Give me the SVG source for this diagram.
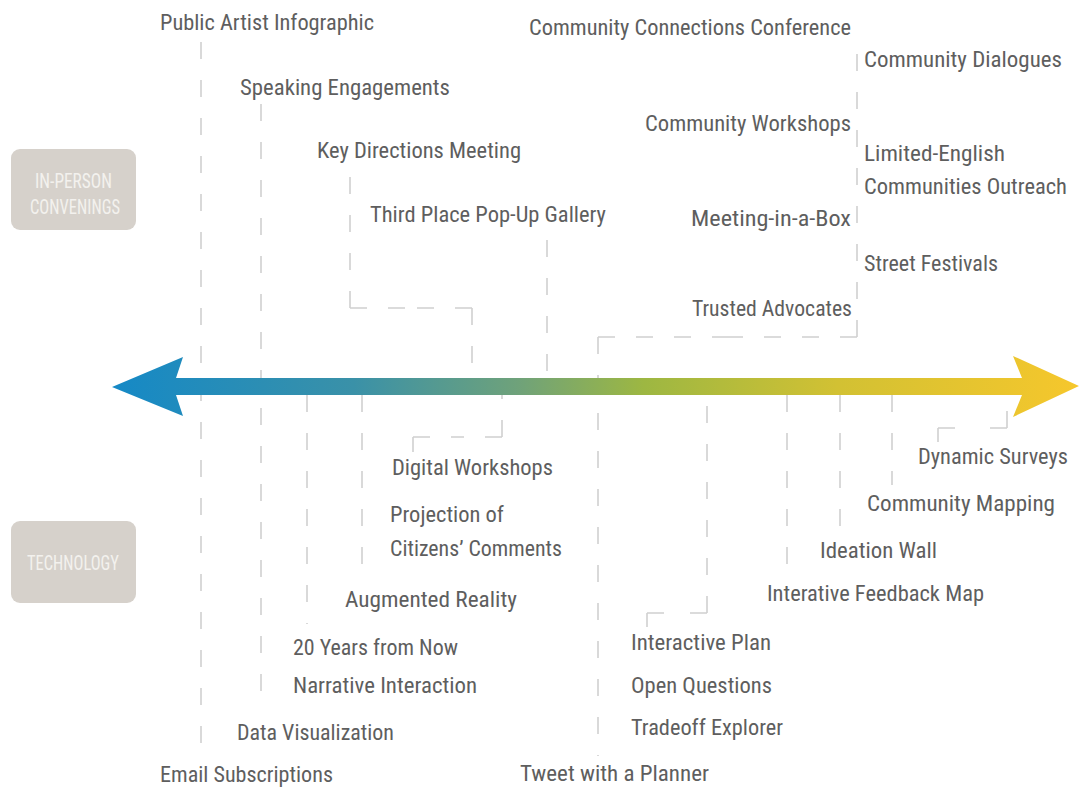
<svg xmlns="http://www.w3.org/2000/svg" width="1079" height="788" viewBox="0 0 1079 788">
<defs>
<linearGradient id="grad" gradientUnits="userSpaceOnUse" x1="112" y1="0" x2="1079" y2="0">
<stop offset="0" stop-color="#1589c6"/>
<stop offset="0.25" stop-color="#3a91a8"/>
<stop offset="0.42" stop-color="#6fa27a"/>
<stop offset="0.55" stop-color="#9db742"/>
<stop offset="0.75" stop-color="#d2c133"/>
<stop offset="1" stop-color="#f6c72c"/>
</linearGradient>
<style>
.lbl{font-family:"Liberation Sans Narrow","Roboto Condensed","Liberation Sans",sans-serif;font-size:22px;fill:#5e5e5e}
.cat{font-family:"Liberation Sans Narrow","Roboto Condensed","Liberation Sans",sans-serif;font-size:20px;fill:#f3f1ee}
.box{fill:#d6d1cb}
.con{fill:none;stroke:#d0d0d0;stroke-width:1.6;stroke-dasharray:17 21}
</style>
</defs>
<rect width="1079" height="788" fill="#ffffff"/>

<g id="cat-inperson">
<rect class="box" x="11" y="149" width="125" height="81" rx="9"/>
<text class="cat" x="35" y="188" textLength="77" lengthAdjust="spacingAndGlyphs">IN-PERSON</text>
<text class="cat" x="30" y="214" textLength="90" lengthAdjust="spacingAndGlyphs">CONVENINGS</text>
</g>
<g id="cat-technology">
<rect class="box" x="11" y="521" width="125" height="82" rx="9"/>
<text class="cat" x="27" y="570" textLength="92" lengthAdjust="spacingAndGlyphs">TECHNOLOGY</text>
</g>

<g id="connectors">
<path class="con" d="M201 42 V753"/>
<path class="con" d="M261 104 V712"/>
<path class="con" d="M350 308 V172 M350 308 H411 M472 308 H411 M472 308 V377"/>
<path class="con" d="M547 240 V377"/>
<path class="con" d="M857 337 V42 M857 337 H727 M598 337 H727 M598 337 V756"/>
<path class="con" d="M502 437 V395 M502 437 H457 M413 437 H457 M413 437 V452"/>
<path class="con" d="M362 395 V575"/>
<path class="con" d="M307 395 V624"/>
<path class="con" d="M707 613 V395 M707 613 H677 M647 613 H677 M647 613 V627"/>
<path class="con" d="M787 395 V582"/>
<path class="con" d="M840 395 V532"/>
<path class="con" d="M892 395 V485"/>
<path class="con" d="M1007 428 V395 M1007 428 H972 M938 428 H972 M938 428 V442"/>
</g>

<g id="axis-arrow">
<path fill="url(#grad)" d="M112 387 L183 357 L176 378 L1022 378 L1013 356 L1079 386 L1013 417 L1022 395 L176 395 L183 416 Z"/>
</g>

<g id="n-public-artist"><text class="lbl" x="160" y="30" textLength="214" lengthAdjust="spacingAndGlyphs">Public Artist Infographic</text></g>
<g id="n-speaking"><text class="lbl" x="240" y="95" textLength="210" lengthAdjust="spacingAndGlyphs">Speaking Engagements</text></g>
<g id="n-key-directions"><text class="lbl" x="317" y="158" textLength="204" lengthAdjust="spacingAndGlyphs">Key Directions Meeting</text></g>
<g id="n-third-place"><text class="lbl" x="370" y="222" textLength="236" lengthAdjust="spacingAndGlyphs">Third Place Pop-Up Gallery</text></g>
<g id="n-ccc"><text class="lbl" x="529" y="35" textLength="322" lengthAdjust="spacingAndGlyphs">Community Connections Conference</text></g>
<g id="n-dialogues"><text class="lbl" x="864" y="67" textLength="198" lengthAdjust="spacingAndGlyphs">Community Dialogues</text></g>
<g id="n-comm-workshops"><text class="lbl" x="645" y="131" textLength="206" lengthAdjust="spacingAndGlyphs">Community Workshops</text></g>
<g id="n-limited-english">
<text class="lbl" x="864" y="161" textLength="141" lengthAdjust="spacingAndGlyphs">Limited-English</text>
<text class="lbl" x="864" y="194" textLength="203" lengthAdjust="spacingAndGlyphs">Communities Outreach</text>
</g>
<g id="n-meeting-box"><text class="lbl" x="691" y="226" textLength="160" lengthAdjust="spacingAndGlyphs">Meeting-in-a-Box</text></g>
<g id="n-street"><text class="lbl" x="864" y="271" textLength="134" lengthAdjust="spacingAndGlyphs">Street Festivals</text></g>
<g id="n-trusted"><text class="lbl" x="692" y="316" textLength="160" lengthAdjust="spacingAndGlyphs">Trusted Advocates</text></g>
<g id="n-digital-workshops"><text class="lbl" x="392" y="475" textLength="161" lengthAdjust="spacingAndGlyphs">Digital Workshops</text></g>
<g id="n-projection">
<text class="lbl" x="390" y="522" textLength="114" lengthAdjust="spacingAndGlyphs">Projection of</text>
<text class="lbl" x="390" y="556" textLength="172" lengthAdjust="spacingAndGlyphs">Citizens’ Comments</text>
</g>
<g id="n-augmented"><text class="lbl" x="345" y="607" textLength="172" lengthAdjust="spacingAndGlyphs">Augmented Reality</text></g>
<g id="n-twenty-years">
<text class="lbl" x="293" y="655" textLength="165" lengthAdjust="spacingAndGlyphs">20 Years from Now</text>
<text class="lbl" x="293" y="693" textLength="184" lengthAdjust="spacingAndGlyphs">Narrative Interaction</text>
</g>
<g id="n-dataviz"><text class="lbl" x="237" y="740" textLength="157" lengthAdjust="spacingAndGlyphs">Data Visualization</text></g>
<g id="n-email"><text class="lbl" x="160" y="782" textLength="173" lengthAdjust="spacingAndGlyphs">Email Subscriptions</text></g>
<g id="n-tweet"><text class="lbl" x="520" y="781" textLength="189" lengthAdjust="spacingAndGlyphs">Tweet with a Planner</text></g>
<g id="n-interactive-plan">
<text class="lbl" x="631" y="650" textLength="140" lengthAdjust="spacingAndGlyphs">Interactive Plan</text>
<text class="lbl" x="631" y="693" textLength="141" lengthAdjust="spacingAndGlyphs">Open Questions</text>
<text class="lbl" x="631" y="735" textLength="152" lengthAdjust="spacingAndGlyphs">Tradeoff Explorer</text>
</g>
<g id="n-feedback-map"><text class="lbl" x="767" y="601" textLength="217" lengthAdjust="spacingAndGlyphs">Interative Feedback Map</text></g>
<g id="n-ideation"><text class="lbl" x="820" y="558" textLength="117" lengthAdjust="spacingAndGlyphs">Ideation Wall</text></g>
<g id="n-mapping"><text class="lbl" x="867" y="511" textLength="188" lengthAdjust="spacingAndGlyphs">Community Mapping</text></g>
<g id="n-dynamic"><text class="lbl" x="918" y="464" textLength="150" lengthAdjust="spacingAndGlyphs">Dynamic Surveys</text></g>
</svg>
